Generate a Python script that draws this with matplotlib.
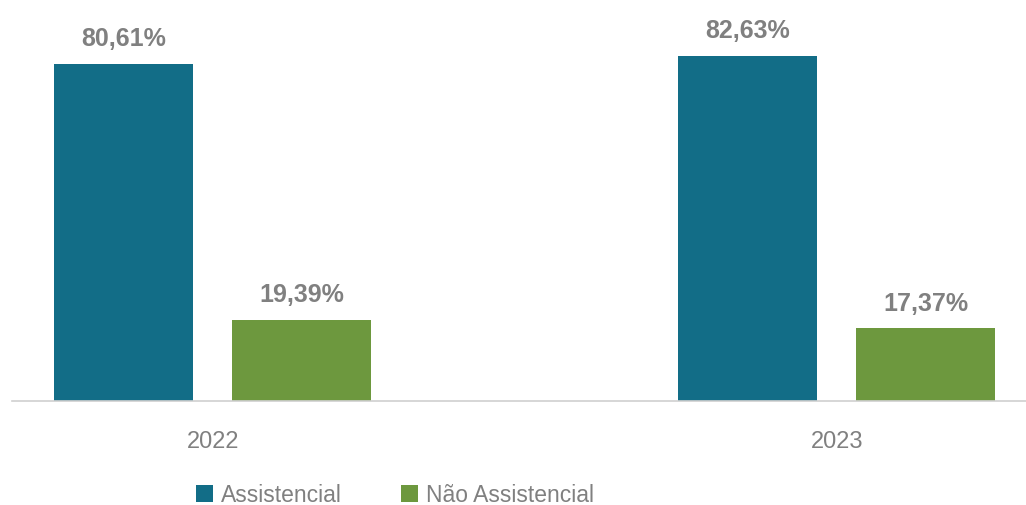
import matplotlib
matplotlib.use("Agg")
import matplotlib.pyplot as plt
from matplotlib.patches import Patch
import numpy as np

years = ["2022", "2023"]
assistencial = [80.61, 82.63]
nao_assistencial = [19.39, 17.37]
series_names = ["Assistencial", "Não Assistencial"]
colors = ["#126d87", "#6d983e"]

plt.rcParams['font.family'] = ['Liberation Sans', 'DejaVu Sans']

fig = plt.figure(figsize=(10.26, 5.06), dpi=100)
ax = fig.add_axes([12/1026, 1 - 402/506, 1014/1026, 402/506])

x = np.arange(len(years))
w = 0.2228
off = 0.1426
b1 = ax.bar(x - off, assistencial, w, color=colors[0])
b2 = ax.bar(x + off, nao_assistencial, w, color=colors[1])

def fmt(v):
    return f"{v:.2f}%".replace(".", ",")

for bars, vals in ((b1, assistencial), (b2, nao_assistencial)):
    for r, v in zip(bars, vals):
        ax.annotate(fmt(v), (r.get_x() + r.get_width()/2, v), xytext=(0, 13.5),
                    textcoords="offset points", ha="center", va="baseline",
                    fontsize=18, fontweight="bold", color="#808080")

ax.set_xlim(-0.322, 1.303)
ax.set_ylim(0, 96.2)
ax.set_xticks(x)
ax.set_xticklabels(years, fontsize=17, color="#808080")
ax.tick_params(axis="x", length=0, pad=21)
ax.set_yticks([])
for s in ["top", "right", "left"]:
    ax.spines[s].set_visible(False)
ax.spines["bottom"].set_color("#d0d0d0")
ax.spines["bottom"].set_linewidth(1.2)

handles = [Patch(facecolor=c, label=n) for c, n in zip(colors, series_names)]
fig.legend(handles=handles, loc="center", bbox_to_anchor=(395/1026, 1 - 496/506),
           ncol=2, frameon=False, fontsize=16.5, labelcolor="#808080",
           handlelength=0.75, handleheight=0.75, handletextpad=0.35, columnspacing=2.6)

fig.savefig("out.png", dpi=100)
